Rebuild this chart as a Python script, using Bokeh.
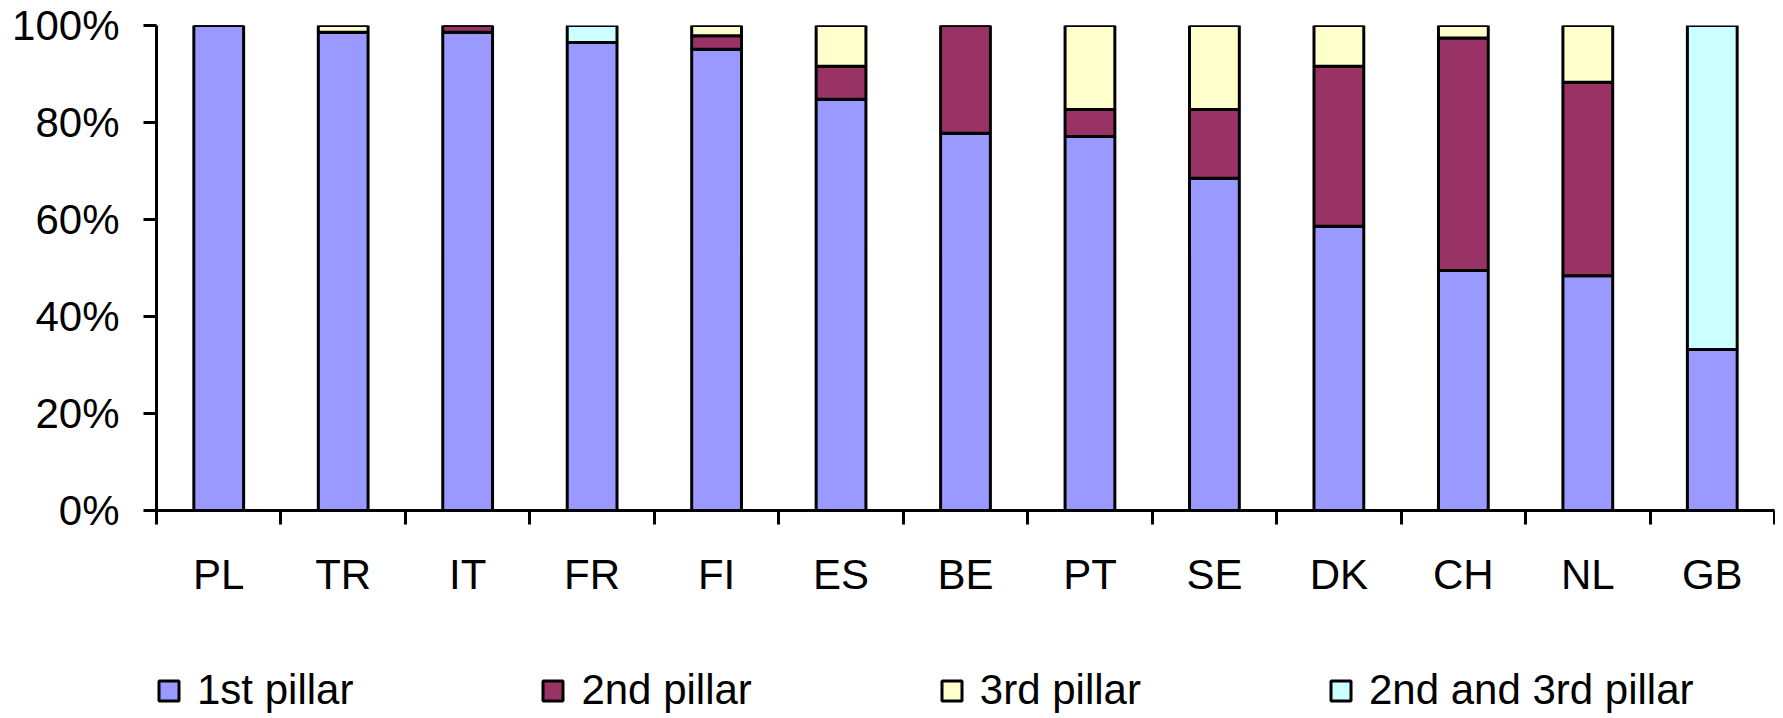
from bokeh.plotting import figure
from bokeh.layouts import column
from bokeh.models import (ColumnDataSource, FixedTicker, Range1d, Legend, LegendItem,
                          CustomJSTickFormatter)
from bokeh.embed import file_html
from bokeh.resources import INLINE

countries = ["PL", "TR", "IT", "FR", "FI", "ES", "BE", "PT", "SE", "DK", "CH", "NL", "GB"]
pillar1 = [100.0, 98.6, 98.6, 96.5, 95.1, 84.8, 77.8, 77.1, 68.5, 58.6, 49.5, 48.4, 33.2]
pillar2 = [0.0, 0.0, 1.4, 0.0, 2.8, 6.8, 22.2, 5.6, 14.2, 33.0, 47.9, 39.9, 0.0]
pillar3 = [0.0, 1.4, 0.0, 0.0, 2.1, 8.4, 0.0, 17.3, 17.3, 8.4, 2.6, 11.7, 0.0]
pillar23 = [0.0, 0.0, 0.0, 3.5, 0.0, 0.0, 0.0, 0.0, 0.0, 0.0, 0.0, 0.0, 66.8]
series_names = ["1st pillar", "2nd pillar", "3rd pillar", "2nd and 3rd pillar"]
colors = ["#9999FF", "#993366", "#FFFFCC", "#CCFFFF"]
y_ticks = [0, 20, 40, 60, 80, 100]

FONT = "Liberation Sans"
W = 1775

x = [i + 0.5 for i in range(len(countries))]
data = {"x": x, "p1": pillar1, "p2": pillar2, "p3": pillar3, "p23": pillar23}
src = ColumnDataSource(data)
keys = ["p1", "p2", "p3", "p23"]

p = figure(width=W, height=600, output_backend="svg", toolbar_location=None,
           x_range=Range1d(0, len(countries)), y_range=Range1d(0, 100),
           min_border_left=155, min_border_right=1, min_border_top=25, min_border_bottom=88)
p.outline_line_color = None
p.grid.visible = False
p.background_fill_color = "white"
p.border_fill_color = "white"

p.vbar_stack(keys, x="x", width=0.4, source=src, fill_color=colors,
             line_color="black", line_width=3)

# y axis
p.yaxis.ticker = FixedTicker(ticks=y_ticks)
p.yaxis.formatter = CustomJSTickFormatter(code="return tick.toFixed(0) + '%';")
p.yaxis.axis_line_width = 3
p.yaxis.axis_line_color = "black"
p.yaxis.major_tick_line_width = 3
p.yaxis.major_tick_line_color = "black"
p.yaxis.major_tick_out = 13
p.yaxis.major_tick_in = 0
p.yaxis.minor_tick_line_color = None
p.yaxis.major_label_text_font = FONT
p.yaxis.major_label_text_font_size = "42px"
p.yaxis.major_label_text_color = "black"
p.yaxis.major_label_standoff = 24

# x axis: labels at centers, tick marks at category boundaries
p.xaxis.ticker = FixedTicker(ticks=x, minor_ticks=list(range(len(countries) + 1)))
p.xaxis.major_label_overrides = {xi: c for xi, c in zip(x, countries)}
p.xaxis.axis_line_width = 3
p.xaxis.axis_line_color = "black"
p.xaxis.major_tick_line_color = None
p.xaxis.major_tick_out = 0
p.xaxis.major_tick_in = 0
p.xaxis.minor_tick_line_color = "black"
p.xaxis.minor_tick_line_width = 3
p.xaxis.minor_tick_out = 14
p.xaxis.minor_tick_in = 0
p.xaxis.major_label_text_font = FONT
p.xaxis.major_label_text_font_size = "42px"
p.xaxis.major_label_text_color = "black"
p.xaxis.major_label_standoff = 26

# legend in a strip below the chart (its series renderers are hidden)
lf = figure(width=W, height=118, output_backend="svg", toolbar_location=None,
            x_range=Range1d(0, len(countries)), y_range=Range1d(-2000, -1000),
            x_axis_location=None, y_axis_location=None,
            min_border_left=156, min_border_right=0, min_border_top=66, min_border_bottom=0)
lf.outline_line_color = None
lf.grid.visible = False
lf.border_fill_color = "white"
lf.background_fill_color = "white"

lrs = lf.vbar_stack(keys, x="x", width=0.4, source=src, fill_color=colors,
                    line_color="black", line_width=3)
for r in lrs:
    r.visible = False
items = [LegendItem(label=n, renderers=[r]) for n, r in zip(series_names, lrs)]

legend = Legend(items=items, orientation="horizontal", location="top_left",
                spacing=187, padding=0, margin=0, border_line_color=None,
                background_fill_alpha=0, glyph_width=25, glyph_height=25,
                label_standoff=16, label_text_font=FONT, label_text_font_size="42px",
                label_text_color="black", inactive_fill_alpha=0)
lf.add_layout(legend, "center")

layout = column(p, lf, spacing=0)
open("out.html", "w").write(file_html(layout, INLINE))
